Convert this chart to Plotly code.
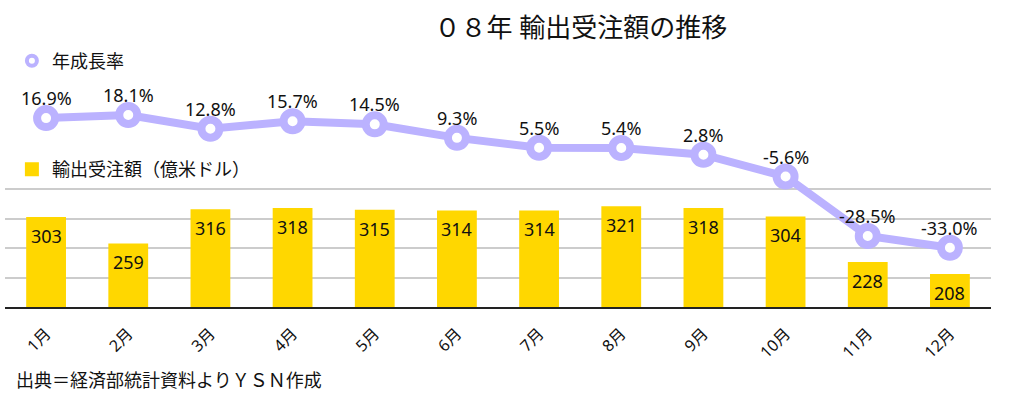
import plotly.graph_objects as go

months = ["1月", "2月", "3月", "4月", "5月", "6月", "7月", "8月", "9月", "10月", "11月", "12月"]
orders = [303, 259, 316, 318, 315, 314, 314, 321, 318, 304, 228, 208]
growth = [16.9, 18.1, 12.8, 15.7, 14.5, 9.3, 5.5, 5.4, 2.8, -5.6, -28.5, -33.0]

title_text = "０８年 輸出受注額の推移"
line_name = "年成長率"
bar_name = "輸出受注額（億米ドル）"
source_text = "出典＝経済部統計資料よりＹＳＮ作成"

LAV = "#BBB2FF"
GOLD = "#FFD700"
FONT = "Noto Sans, Noto Sans CJK JP, sans-serif"

fig = go.Figure()

fig.add_trace(go.Bar(
    x=months, y=orders, name=bar_name, legend="legend2",
    marker=dict(color=GOLD, line=dict(color=GOLD, width=2)),
    xaxis="x", yaxis="y", hoverinfo="x+y",
))

fig.add_trace(go.Scatter(
    x=months, y=growth, mode="lines+markers", name=line_name, showlegend=False,
    line=dict(color=LAV, width=8),
    marker=dict(size=18, color="white", line=dict(color=LAV, width=8)),
    xaxis="x", yaxis="y2", cliponaxis=False,
))
# legend entry for the growth line (marker only, as in the reference)
fig.add_trace(go.Scatter(
    x=[None], y=[None], mode="markers", name=line_name, legend="legend",
    marker=dict(size=10, color="white", line=dict(color=LAV, width=4)),
    xaxis="x", yaxis="y2",
))

annotations = []
for m, v in zip(months, orders):
    annotations.append(dict(x=m, y=v, xref="x", yref="y", text=str(v), showarrow=False,
                            yanchor="middle", yshift=-18,
                            font=dict(size=18, color="#111", family=FONT)))
for m, g in zip(months, growth):
    annotations.append(dict(x=m, y=g, xref="x", yref="y2", text=f"{g:.1f}%", showarrow=False,
                            yanchor="middle", yshift=20,
                            font=dict(size=18, color="#111", family=FONT)))
annotations.append(dict(x=0.009, y=-0.273, xref="paper", yref="paper", text=source_text,
                        showarrow=False, xanchor="left", yanchor="middle",
                        font=dict(size=18, color="#111", family=FONT)))

bar_min, bar_max = 154.5, 360.0
step = 49.25

fig.update_layout(
    width=1014, height=399,
    margin=dict(l=5, r=23, t=40, b=92),
    paper_bgcolor="white", plot_bgcolor="rgba(0,0,0,0)",
    title=dict(text=title_text, x=581 / 1014, xanchor="center", y=1 - 28 / 399, yanchor="middle",
               font=dict(size=26, color="#111", family=FONT)),
    bargap=0.54,
    xaxis=dict(anchor="y", range=[-0.5, len(months) - 0.5], showline=True, linecolor="#222",
               linewidth=2, ticks="outside", ticklen=9, tickcolor="rgba(0,0,0,0)",
               tickangle=-45, tickfont=dict(size=16, color="#111", family=FONT),
               showgrid=False, zeroline=False),
    yaxis=dict(domain=[0, 0.461], range=[bar_min, bar_max],
               tickvals=[bar_min + step * k for k in range(1, 5)],
               showticklabels=False, showgrid=True, gridcolor="#cccccc", gridwidth=1.5,
               zeroline=False, ticks=""),
    yaxis2=dict(domain=[0, 1], anchor="x", range=[-55.83, 46.98],
                showticklabels=False, showgrid=False, zeroline=False, ticks=""),
    legend=dict(x=0.007, y=0.921, xanchor="left", yanchor="middle", bgcolor="rgba(0,0,0,0)",
                font=dict(size=18, color="#111", family=FONT)),
    legend2=dict(x=0.007, y=0.515, xanchor="left", yanchor="middle", bgcolor="rgba(0,0,0,0)",
                 font=dict(size=18, color="#111", family=FONT)),
    annotations=annotations,
    showlegend=True,
)

fig.write_html("out.html", config={"displayModeBar": False},
               post_script="document.body.style.margin='0';")
